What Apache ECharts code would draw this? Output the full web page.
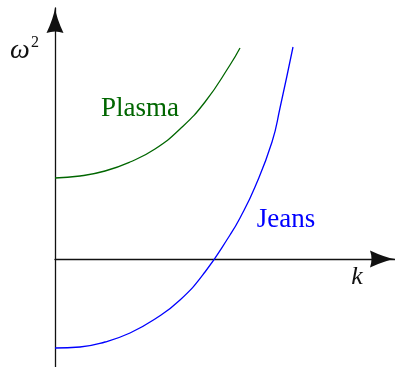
<!DOCTYPE html>
<html>
<head>
<meta charset="utf-8">
<style>
  html, body { margin: 0; padding: 0; background: #ffffff; }
  #chart { width: 395px; height: 367px; }
</style>
<script src="https://cdn.jsdelivr.net/npm/echarts@6/dist/echarts.min.js"></script>
</head>
<body>
<div id="chart"></div>
<script>
// Wavenumber samples k (arbitrary units)
const kPlasma = [0, 0.25, 0.5, 0.75, 1.0, 1.25, 1.5, 1.75, 1.85];
const kJeans  = [0, 0.25, 0.5, 0.75, 1.0, 1.25, 1.5, 1.75, 1.85, 2.0, 2.17, 2.25, 2.38];

// ω² for the plasma branch (gap at k = 0, grows with k)
const omega2Plasma = [0.81, 0.83, 0.88, 0.97, 1.10, 1.30, 1.57, 1.94, 2.11];
// ω² for the Jeans branch (negative at small k: unstable region)
const omega2Jeans  = [-0.89, -0.88, -0.83, -0.74, -0.60, -0.41, -0.13, 0.24, 0.41, 0.72, 1.17, 1.51, 2.12];

const seriesLabels = ['Plasma', 'Jeans'];
const axisLabels = { x: 'k', y: 'ω', yPow: '2' };

const axisColor = '#111111';
const plasmaColor = '#006600';
const jeansColor = '#0000ff';

// LaTeX-style arrow head, drawn pointing up (ECharts rotates it along the axis)
const arrowHead = 'path://M8.5,0 Q10,10 17,25 Q8.5,22 0,25 Q7,10 8.5,0 Z';

const zip = (xs, ys) => xs.map((x, i) => [x, ys[i]]);

const chart = echarts.init(document.getElementById('chart'), null, { renderer: 'canvas' });

const axisCommon = {
  type: 'value',
  axisTick: { show: false },
  axisLabel: { show: false },
  splitLine: { show: false },
  axisLine: {
    show: true,
    symbol: ['none', arrowHead],
    symbolSize: [17, 25],
    symbolOffset: [0, -12.5],
    lineStyle: { color: axisColor, width: 1.3 }
  }
};

chart.setOption({
  animation: false,
  backgroundColor: '#ffffff',
  grid: { left: 55, right: 0, top: 8, bottom: 0, outerBoundsMode: 'none', containLabel: false },
  xAxis: Object.assign({}, axisCommon, { min: 0, max: 3.4 }),
  yAxis: Object.assign({}, axisCommon, { min: -1.08, max: 2.51 }),
  series: [
    {
      name: seriesLabels[0],
      type: 'line',
      data: zip(kPlasma, omega2Plasma),
      smooth: 0.5,
      showSymbol: false,
      lineStyle: { color: plasmaColor, width: 1.3 },
      z: 3
    },
    {
      name: seriesLabels[1],
      type: 'line',
      data: zip(kJeans, omega2Jeans),
      smooth: 0.5,
      showSymbol: false,
      lineStyle: { color: jeansColor, width: 1.3 },
      z: 3
    }
  ],
  graphic: [
    {
      type: 'text', x: 140, y: 109,
      style: { text: seriesLabels[0], fill: plasmaColor, font: '27px "Liberation Serif"', textAlign: 'center', textVerticalAlign: 'middle' }
    },
    {
      type: 'text', x: 286, y: 220,
      style: { text: seriesLabels[1], fill: jeansColor, font: '27px "Liberation Serif"', textAlign: 'center', textVerticalAlign: 'middle' }
    },
    {
      type: 'text', x: 20, y: 51,
      style: { text: axisLabels.y, fill: '#111111', font: 'italic 28px "Liberation Serif"', textAlign: 'center', textVerticalAlign: 'middle' }
    },
    {
      type: 'text', x: 35, y: 43,
      style: { text: axisLabels.yPow, fill: '#111111', font: '16px "Liberation Serif"', textAlign: 'center', textVerticalAlign: 'middle' }
    },
    {
      type: 'text', x: 357, y: 277,
      style: { text: axisLabels.x, fill: '#111111', font: 'italic 26px "Liberation Serif"', textAlign: 'center', textVerticalAlign: 'middle' }
    }
  ]
});
</script>
</body>
</html>
